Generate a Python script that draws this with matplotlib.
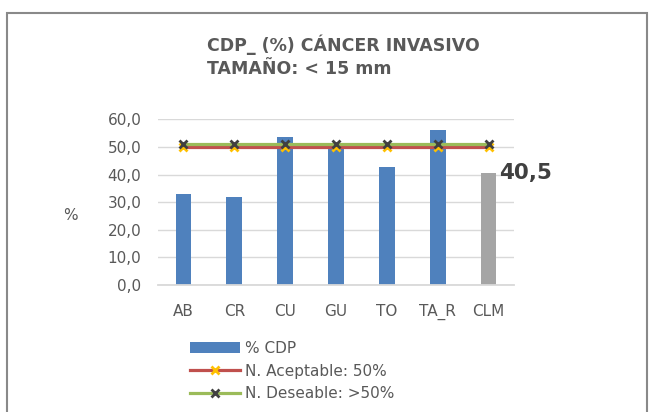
import matplotlib
matplotlib.use("Agg")
import matplotlib.pyplot as plt
import matplotlib.ticker as mticker
from matplotlib.patches import Rectangle

# data
categories = ["AB", "CR", "CU", "GU", "TO", "TA_R", "CLM"]
cdp_values = [33.0, 32.0, 53.6, 50.5, 42.8, 56.1, 40.5]
aceptable = [50, 50, 50, 50, 50, 50, 50]
deseable = [51, 51, 51, 51, 51, 51, 51]
y_ticks = [0, 10, 20, 30, 40, 50, 60]

BLUE = "#4F81BD"
GREY = "#A5A5A5"
RED = "#C0504D"
GREEN = "#9BBB59"
TEXT = "#595959"

W, H = 651, 412
fig = plt.figure(figsize=(W / 100, H / 100), dpi=100)

# chart area frame (runs past the bottom edge in the reference)
fig.patches.append(Rectangle((7 / W, -0.02), 640 / W, 1 - 13 / H + 0.02,
                             transform=fig.transFigure, fill=False,
                             edgecolor="#898989", linewidth=1.5))

ax = fig.add_axes([158 / W, 1 - 285 / H, 356 / W, (285 - 119.3) / H])

x = list(range(len(categories)))
bar_colors = [BLUE] * (len(categories) - 1) + [GREY]
bars = ax.bar(x, cdp_values, width=0.31, color=bar_colors, zorder=2, label="% CDP")
line_a, = ax.plot(x, aceptable, color=RED, linewidth=2.3, marker="x", markersize=6,
                  markeredgewidth=2, markeredgecolor="#FFC000", zorder=3,
                  label="N. Aceptable: 50%")
line_d, = ax.plot(x, deseable, color=GREEN, linewidth=2.3, marker="x", markersize=6,
                  markeredgewidth=2, markeredgecolor="#404040", zorder=4,
                  label="N. Deseable: >50%")

ax.annotate("40,5", xy=(x[-1], cdp_values[-1]), xytext=(7.5, 0),
            textcoords="offset points", ha="left", va="center",
            fontsize=15.5, fontweight="bold", color="#404040")

ax.set_xlim(-0.5, len(categories) - 0.5)
ax.set_ylim(0, 60)
ax.set_xticks(x)
ax.set_xticklabels(categories)
ax.set_yticks(y_ticks)
ax.yaxis.set_major_formatter(mticker.FuncFormatter(lambda v, p: f"{v:.1f}".replace(".", ",")))
ax.tick_params(axis="both", length=0, labelsize=11, labelcolor=TEXT)
ax.tick_params(axis="x", pad=22.5)
ax.tick_params(axis="y", pad=12)
for lbl in ax.get_xticklabels():
    lbl.set_verticalalignment("baseline")
ax.grid(True, axis="y", color="#D9D9D9", linewidth=1, zorder=0)
ax.set_axisbelow(True)
for side in ["top", "right", "left"]:
    ax.spines[side].set_visible(False)
ax.spines["bottom"].set_color("#D9D9D9")
ax.spines["bottom"].set_linewidth(1.3)

fig.text(70 / W, 1 - 215 / H, "%", fontsize=11, color=TEXT, ha="center", va="center")

fig.text(207 / W, 1 - 50.7 / H, "CDP_ (%) CÁNCER INVASIVO", fontsize=12.5,
         fontweight="bold", color=TEXT, ha="left", va="baseline")
fig.text(207 / W, 1 - 74 / H, "TAMAÑO: < 15 mm", fontsize=12.5,
         fontweight="bold", color=TEXT, ha="left", va="baseline")

fig.legend(handles=[bars, line_a, line_d], loc="upper left",
           bbox_to_anchor=(190 / W, 1 - 341 / H),
           frameon=False, fontsize=11, labelcolor=TEXT, handlelength=3.3,
           handleheight=0.75, handletextpad=0.3, labelspacing=0.5, borderpad=0,
           borderaxespad=0)

fig.savefig("out.png", dpi=100)
